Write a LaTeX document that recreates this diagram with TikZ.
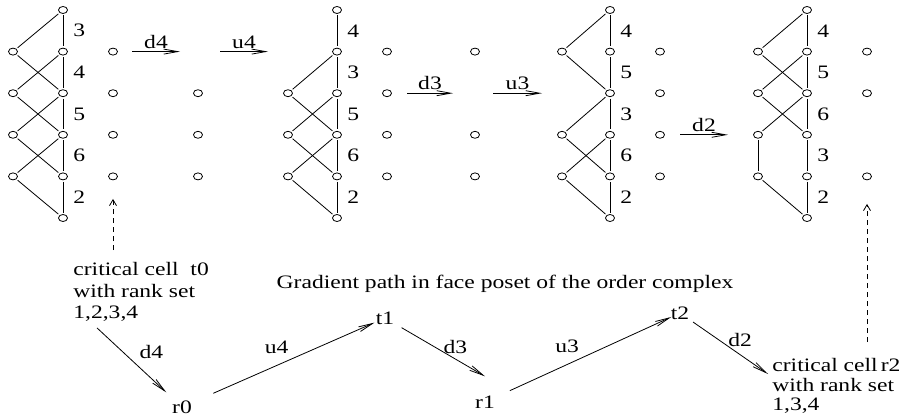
\documentclass[tikz,border=0pt]{standalone}
\usepackage{fontspec}
\setmainfont{Liberation Serif}[FakeStretch=1.24]
\usetikzlibrary{arrows.meta, shapes.geometric}

\begin{document}
\begin{tikzpicture}[x=1pt, y=-1pt,
				>={Straight Barb[length=14pt,width=5pt]},   %Pfeilspitzen
				pkt/.style={draw, ellipse, minimum width=9pt, minimum height=7pt, inner sep=0pt, outer sep=2pt},
				lbl/.style={inner sep=2pt},
				zelle/.style={inner sep=1pt},
				hinweis/.style={dash pattern=on 5pt off 4pt, -{Straight Barb[length=6pt,width=7pt]}},
				font=\fontsize{19}{21.5}\selectfont, line width=0.8pt]
				%Rahmen
				\useasboundingbox (0,0) rectangle (916,417);
				% Punkte der Ketten
				\foreach \n/\x/\rr in {aL/13/{1,2,3,4}, aM/63/{0,...,5}, aR/113/{1,2,3,4}, ab/198/{2,3,4},
						bL/288/{2,3,4}, bM/337/{0,...,5}, bR/387/{1,2,3,4}, bc/475/{1,3,4},
						cL/562/{1,3,4}, cM/610/{0,...,5}, cR/660/{1,2,3,4},
						dL/758/{1,2,3,4}, dM/807/{0,...,5}, dR/867/{1,2,4}}
					\foreach \z in \rr \node[pkt] (\n\z) at (\x,{10+41.6*\z}) {};
				% Kanten ohne Beschriftung
				\foreach \u/\v in {aM0/aL1, aL1/aM2, aM1/aL2, aL2/aM3, aM2/aL3, aL3/aM4, aM3/aL4, aL4/aM5,
						bM1/bL2, bL2/bM3, bM2/bL3, bL3/bM4, bM3/bL4, bL4/bM5,
						cM0/cL1, cL1/cM2, cM2/cL3, cL3/cM4, cM3/cL4, cL4/cM5,
						dM0/dL1, dL1/dM2, dM1/dL2, dL2/dM3, dM2/dL3, dL3/dL4, dL4/dM5}
					\draw (\u) -- (\v);
				% Ränge an der mittleren Kette
				\foreach \kette/\zahlen in {a/{3,4,5,6,2}, b/{4,3,5,6,2}, c/{4,5,3,6,2}, d/{4,5,6,3,2}}
					\foreach \zz [count=\zi from 0] in \zahlen {
						\pgfmathtruncatemacro\zj{\zi+1}
						\draw (\kette M\zi) -- node[right=8pt, lbl] {\zz} (\kette M\zj);
					}
				% Pfeile oben
				\foreach \n/\a/\b/\s in {aR1/19/67/d4, aR1/107/155/u4, bR2/20/66/d3, bR2/106/155/u3, cR3/20/68/d2}
					\draw[->] ([xshift=\a pt]\n.center) -- node[above=1pt, lbl] {\s} ([xshift=\b pt]\n.center);
				% Gradientenpfad unten
				\node[anchor=north west, align=left, inner sep=0pt] (tkrit) at (73,262) {critical cell~~t0\\with rank set\\1,2,3,4};
				\node (titel) at (505,284) {Gradient path in face poset of the order complex};
				\node[zelle] (r0) at (182,407) {r0};
				\node[zelle] (t1) at (385,318) {t1};
				\node[zelle] (r1) at (485,402) {r1};
				\node[zelle] (t2) at (680,313) {t2};
				\node[anchor=north west, align=left, inner sep=0pt, font=\fontsize{19}{19.5}\selectfont] (rkrit) at (772,358) {critical cell\,r2\\with rank set\\1,3,4};
				\draw[->, shorten >=10pt] ([xshift=24pt,yshift=-6pt]tkrit.south west) -- node[above right=2pt, lbl] {d4} (r0);
				\draw[->, shorten <=22pt] (r0) -- node[pos=0.46, above=9pt, lbl] {u4} (t1);
				\draw[->, shorten <=7pt] (t1) -- node[pos=0.67, above=3.5pt, lbl] {d3} ([yshift=18pt]r1.north);
				\draw[->, shorten <=15pt, shorten >=-2pt] (r1) -- node[pos=0.41, above=9pt, lbl] {u3} (t2);
				\draw[->, shorten <=3pt] (t2) -- node[pos=0.64, above=6pt, lbl] {d2} ([xshift=-4pt,yshift=-16pt]rkrit.north west);
				% gestrichelte Hinweise
				\draw[hinweis, shorten <=12pt, shorten >=17pt] (aR4 |- tkrit.north) -- (aR4);
				\draw[hinweis, shorten <=16pt, shorten >=22pt] (dR4 |- rkrit.north) -- (dR4);
			\end{tikzpicture}
\end{document}
